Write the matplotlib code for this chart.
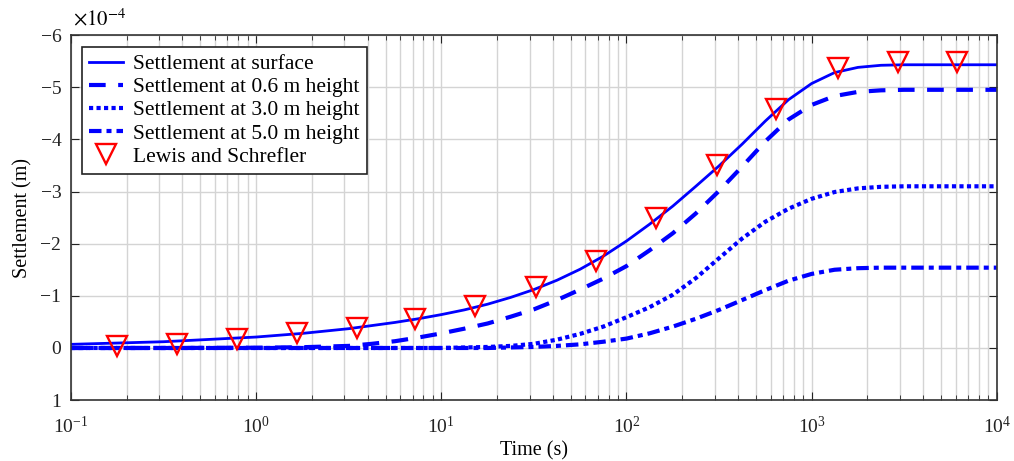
import matplotlib
matplotlib.use("Agg")
import matplotlib.pyplot as plt

plt.rcParams["font.family"] = ["Liberation Serif", "DejaVu Serif"]
plt.rcParams["mathtext.fontset"] = "stix"

BLUE, RED, GRID = "#0000ff", "#ff0000", "#d4d4d4"

# time grid for the curves (s); settlements in units of 1e-4 m
t_curve = [0.1, 0.316, 1.0, 1.78, 3.16, 4.22, 5.62, 7.50, 10.0, 13.3, 17.8,
           23.7, 31.6, 42.2, 56.2, 75.0, 100.0, 133.0, 178.0, 237.0, 316.0,
           422.0, 562.0, 750.0, 1000.0, 1330.0, 1780.0, 2370.0, 3160.0,
           5620.0, 10000.0]
surface = [-0.07, -0.12, -0.21, -0.28, -0.37, -0.43, -0.49, -0.56, -0.64,
           -0.73, -0.84, -0.97, -1.12, -1.30, -1.51, -1.76, -2.05, -2.37,
           -2.72, -3.10, -3.49, -3.91, -4.35, -4.76, -5.07, -5.28, -5.38,
           -5.42, -5.43, -5.43, -5.43]
h06 = [0.0, 0.0, -0.005, -0.015, -0.04, -0.08, -0.13, -0.20, -0.28, -0.37,
       -0.47, -0.60, -0.74, -0.92, -1.12, -1.33, -1.57, -1.87, -2.20, -2.58,
       -3.01, -3.48, -3.96, -4.38, -4.66, -4.83, -4.91, -4.94, -4.95, -4.95,
       -4.95]
h30 = [0.0, 0.0, 0.0, 0.0, 0.0, 0.0, 0.0, 0.0, 0.0, -0.01, -0.02, -0.04,
       -0.08, -0.16, -0.27, -0.41, -0.59, -0.78, -1.02, -1.34, -1.72, -2.10,
       -2.42, -2.67, -2.86, -2.99, -3.06, -3.09, -3.10, -3.10, -3.10]
h50 = [0.0, 0.0, 0.0, 0.0, 0.0, 0.0, 0.0, 0.0, 0.0, 0.0, 0.0, -0.01, -0.02,
       -0.04, -0.07, -0.12, -0.18, -0.28, -0.41, -0.56, -0.73, -0.92, -1.11,
       -1.29, -1.42, -1.50, -1.53, -1.54, -1.54, -1.54, -1.54]

# Lewis and Schrefler reference points
t_ref = [0.177, 0.372, 0.785, 1.66, 3.49, 7.19, 15.2, 32.4, 68.4, 144.0,
         307.0, 646.0, 1384.0, 2917.0, 6081.0]
s_ref = [-0.04, -0.08, -0.17, -0.28, -0.38, -0.56, -0.81, -1.16, -1.66, -2.50,
         -3.50, -4.58, -5.37, -5.48, -5.48]

fig = plt.figure(figsize=(10.14, 4.61), dpi=100)
ax = fig.add_axes([0.070, 0.132, 0.913, 0.792])

ax.plot(t_curve, surface, color=BLUE, lw=2.0, ls="-",
        label="Settlement at surface")
ax.plot(t_curve, h06, color=BLUE, lw=3.0, ls=(0, (4, 3)),
        label="Settlement at 0.6 m height")
ax.plot(t_curve, h30, color=BLUE, lw=3.0, ls=(0, (1, 0.8)),
        label="Settlement at 3.0 m height")
ax.plot(t_curve, h50, color=BLUE, lw=3.0, ls=(0, (3, 1.2, 1.2, 1.2)),
        label="Settlement at 5.0 m height")
ax.plot(t_ref, s_ref, ls="none", marker="v", ms=14, mfc="none", mec=RED,
        mew=1.7, label="Lewis and Schrefler")

ax.set_xscale("log")
ax.set_xlim(0.1, 1e4)
ax.set_ylim(1, -6)
ax.set_yticks(range(-6, 2))
ax.set_yticklabels(["\u22126", "\u22125", "\u22124", "\u22123", "\u22122",
                    "\u22121", "0", "1"])
ax.grid(True, which="major", color=GRID, lw=1.0)
ax.grid(True, which="minor", axis="x", color=GRID, lw=1.0)
ax.set_axisbelow(True)
ax.tick_params(which="both", direction="in", top=True, right=True,
               labelsize=14, colors="#222222")
ax.tick_params(which="major", length=6)
ax.tick_params(axis="y", pad=7)
ax.tick_params(axis="x", pad=11)
ax.tick_params(which="minor", length=3.5)
for sp in ax.spines.values():
    sp.set_color("#333333")
    sp.set_linewidth(1.2)

ax.set_xlabel("Time (s)", fontsize=14.5, labelpad=3)
ax.set_ylabel("Settlement (m)", fontsize=14.5, labelpad=6)
ax.text(0.002, 1.012, r"$\times10^{-4}$", transform=ax.transAxes,
        fontsize=15, ha="left", va="bottom")

leg = ax.legend(loc="upper left", bbox_to_anchor=(0.0115, 0.968),
                fontsize=15.5, frameon=True, fancybox=False,
                edgecolor="#222222", framealpha=1, borderpad=0.35,
                labelspacing=0.14, handlelength=1.55, handletextpad=0.5,
                borderaxespad=0.0)
leg.get_frame().set_linewidth(1.2)

fig.savefig("out.png", dpi=100)
